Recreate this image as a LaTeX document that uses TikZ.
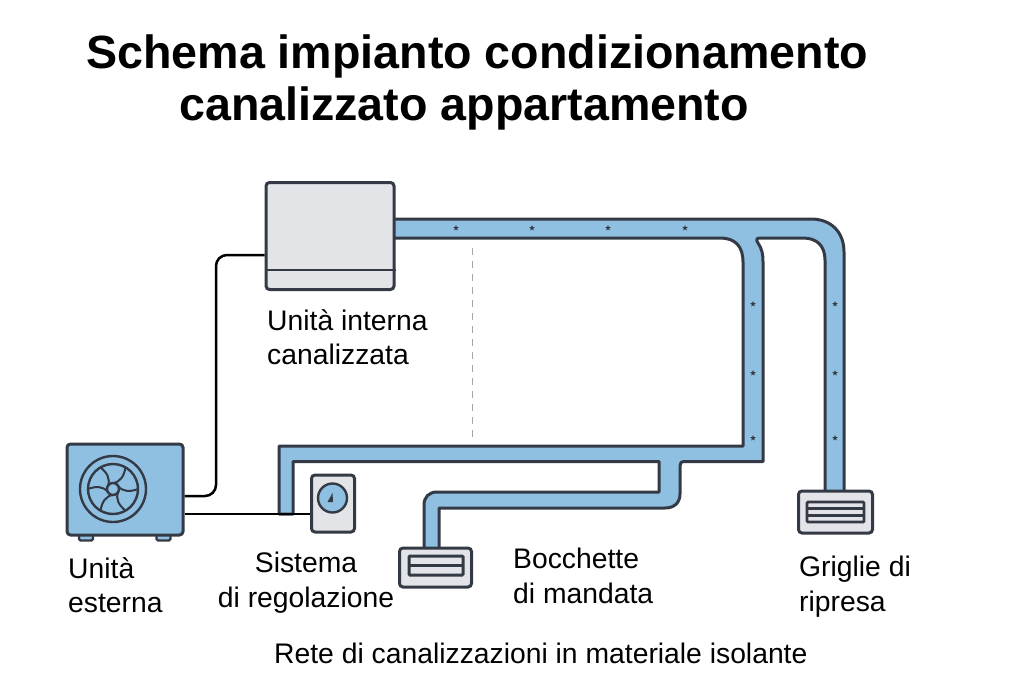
\documentclass[tikz,border=0pt]{standalone}
\usepackage{fontspec}
\setmainfont{Liberation Sans}
\usetikzlibrary{shapes.geometric}
\definecolor{ductblue}{HTML}{8FBFE1}
\definecolor{darkline}{HTML}{343A45}
\definecolor{unitgrey}{HTML}{E3E4E8}
\tikzset{
    unitbox/.style={draw=darkline,line width=3pt,rounded corners=3.5pt,fill=unitgrey,inner sep=0pt},
    ductline/.style={draw=darkline,line width=3pt,fill=ductblue,line join=round},
    wire/.style={draw=black,line width=2.5pt,rounded corners=11pt},
    ductstar/.style={star,star points=5,star point ratio=2.4,fill=darkline,inner sep=0pt,minimum size=6pt},
    bodytext/.style={font=\fontsize{28.3}{34.5}\selectfont,inner sep=0pt,align=left},
    titletext/.style={font=\fontsize{46.6}{52}\selectfont\bfseries,inner sep=0pt}
}
\begin{document}
\begin{tikzpicture}[x=1pt,y=-1pt]
    \useasboundingbox (0,0) rectangle (1024,683);
    % title
    \node[titletext,anchor=base west] (titlea) at (86,68) {Schema impianto condizionamento};
    \node[titletext,anchor=base west] (titleb) at (179,120) {canalizzato appartamento};
    % dashed line
    \coordinate (dashtop) at (472.5,248);
    \coordinate (dashbot) at (472.5,441);
    \draw[draw=gray!70,line width=1.2pt,dash pattern=on 7pt off 6pt] (dashtop) -- (dashbot);
    % ducts
    \path[ductline] (390,219) -- (811,219) .. controls (831,219) and (844,232) .. (844,252)
        -- (844,495) -- (825,495) -- (825,260) .. controls (825,246) and (817,238) .. (803,238)
        -- (760,238) .. controls (756,238) and (756,240) .. (758,243) .. controls (762,249) and (763,254) .. (763,262)
        -- (763,461.5) -- (685,461.5) .. controls (681,461.5) and (680,463) .. (680,466)
        -- (680,494) .. controls (680,503) and (674,508) .. (665,508)
        -- (439,508) -- (439,550) -- (424,550) -- (424,505) .. controls (424,497) and (429,492) .. (437,492)
        -- (659,492) -- (659,461.5) -- (293,461.5) -- (293,514) -- (279,514) -- (279,446)
        -- (743,446) -- (743,262) .. controls (743,246) and (735,238) .. (720,238) -- (390,238) -- cycle;
    \foreach \xpos/\ypos in {456/228,532/228,608/228,685/228,753/304,753/373,753/438,835/304,835/373,835/438} {
        \node[ductstar] at (\xpos,\ypos) {};
    }
    % indoor unit
    \node[unitbox,minimum width=128pt,minimum height=107pt,anchor=north west] (interna) at (264.5,181) {};
    \draw[draw=darkline,line width=2.8pt] (interna.west |- 0,270) -- (interna.east |- 0,270);
    % outdoor unit
    \foreach \xpos in {86,163.5} {
        \draw[draw=darkline,line width=2.4pt,fill=ductblue,rounded corners=1.5pt] (\xpos-7,533) rectangle (\xpos+7,540.5);
    }
    \node[unitbox,fill=ductblue,minimum width=116pt,minimum height=91pt,anchor=north west] (esterna) at (65.5,442.5) {};
    \node[circle,draw=darkline,line width=2.4pt,minimum size=66pt,inner sep=0pt] (ring) at (113,489) {};
    \node[circle,draw=darkline,line width=2.4pt,minimum size=50pt,inner sep=0pt] (fan) at (ring) {};
    \foreach \ang in {0,60,...,300} {
        \draw[draw=darkline,line width=2pt,rotate around={\ang:(ring)}] (118,486) .. controls (123,492) and (130,492) .. (138,489);
    }
    \node[circle,draw=darkline,line width=2.4pt,fill=ductblue,minimum size=12pt,inner sep=0pt] (hub) at (ring) {};
    % controller
    \node[unitbox,minimum width=43pt,minimum height=57pt,anchor=north west] (regola) at (310,473.5) {};
    \node[circle,draw=darkline,line width=2.4pt,fill=ductblue,minimum size=29pt,inner sep=0pt] (dial) at (332.5,498) {};
    \fill[darkline] (332.5,493) -- (333,502) -- (327.5,502) -- cycle;
    % supply vent
    \node[unitbox,minimum width=72pt,minimum height=39pt,anchor=north west] (bocchetta) at (398,546.5) {};
    \draw[draw=darkline,line width=3pt,fill=unitgrey,rounded corners=1pt] (409,556) rectangle (463,575);
    \draw[draw=darkline,line width=3pt] (409,565.5) -- (463,565.5);
    % return grille
    \node[unitbox,minimum width=74pt,minimum height=42pt,anchor=north west] (griglia) at (797,489.5) {};
    \draw[draw=darkline,line width=2.8pt,fill=unitgrey,rounded corners=1pt] (807,502) rectangle (864,522);
    \foreach \ypos in {508.5,515.5} {
        \draw[draw=darkline,line width=2.6pt] (807,\ypos) -- (864,\ypos);
    }
    % wires
    \draw[wire] (esterna.east |- 0,496) -- (216,496) -- (216,255) -- (interna.west |- 0,255);
    \draw[wire] (esterna.east |- 0,514) -- (regola.west |- 0,514);
    % labels
    \node[bodytext,anchor=north west] (lblinterna) at (267,309) {Unità interna\\canalizzata};
    \node[bodytext,anchor=north west] (lblesterna) at (68,557) {Unità\\esterna};
    \node[bodytext,align=center,anchor=north] (lblregola) at (306,552) {Sistema\\di regolazione};
    \node[bodytext,anchor=north west] (lblbocchette) at (513,548) {Bocchette\\di mandata};
    \node[bodytext,anchor=north west] (lblgriglie) at (799,556) {Griglie di\\ripresa};
    \node[bodytext,anchor=base west] (lblrete) at (274,663) {Rete di canalizzazioni in materiale isolante};
\end{tikzpicture}
\end{document}
